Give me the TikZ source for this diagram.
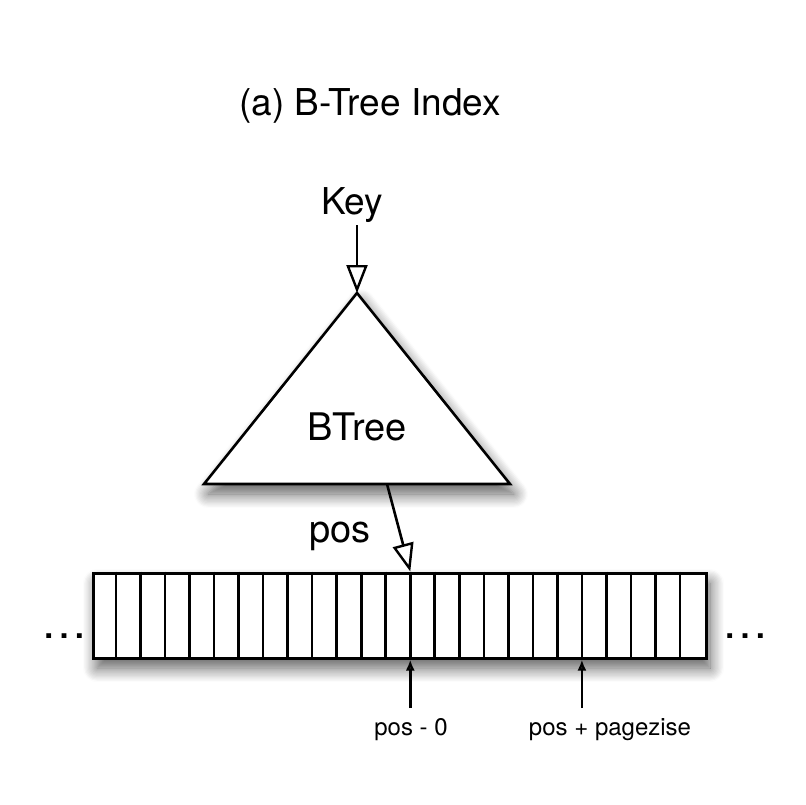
\documentclass[tikz,border=0pt]{standalone}
\usepackage{fontspec}
\setmainfont{TeX Gyre Heros}
\usetikzlibrary{arrows.meta, positioning, calc, shadows.blur}

\begin{document}
\begin{tikzpicture}[
    x=1pt, y=-1pt,
    big/.style={font=\fontsize{37}{40}\selectfont, inner sep=0pt, anchor=base},
    small/.style={font=\fontsize{24}{27}\selectfont, inner sep=0pt, anchor=base},
    shade/.style={blur shadow={shadow xshift=4pt, shadow yshift=-10pt, shadow blur radius=14pt, shadow blur steps=12, shadow opacity=65}},
    tree/.style={draw, line width=2.6pt, fill=white, line join=miter, shade},
    pagerow/.style={draw, line width=3pt, fill=white, minimum width=613pt, minimum height=85pt, inner sep=0pt, shade},
    hollow/.style={-{Triangle[open, length=28pt, width=21pt, line width=2.4pt]}, line width=2.6pt},
    tick/.style={-{Latex[length=11pt, width=9pt]}, line width=2.6pt}
]
\useasboundingbox (0,0) rectangle (806,804);

\node[big] (title) at (370,115) {(a) B-Tree Index};

% the tree
\coordinate (apex) at (357,293);
\coordinate (left) at (204,484);
\coordinate (right) at (510,484);
\draw[tree] (apex) -- (left) -- (right) -- cycle;
\node[big, font=\fontsize{38}{42}\selectfont] (btree) at (357,440) {BTree};
\node[big] (key) at (352,214) {Key};
\draw[hollow] (apex |- 0,225) -- (apex);

% the pages
\node[pagerow] (pages) at (399.5,615.5) {};
\foreach \i in {1,...,24}
    \draw[line width=2.6pt] ($(pages.north west)+(\i*24.52,0)$) -- ($(pages.south west)+(\i*24.52,0)$);
\coordinate (posfrom) at (387,484);
\coordinate (posto) at ($(pages.north west)+(13*24.52,0)$);
\draw[hollow] (posfrom) -- (posto);
\node[big, font=\fontsize{38}{42}\selectfont] (pos) at (340,542) {pos};

\node[big, font=\fontsize{46}{50}\selectfont] (ldots) at (64,638) {…};
\node[big, font=\fontsize{46}{50}\selectfont] (rdots) at (745,638) {…};

% offsets
\coordinate (cellA) at ($(pages.south west)+(13*24.52,0)$);
\coordinate (cellB) at ($(pages.south west)+(20*24.52,0)$);
\node[small] (zero) at (411,735) {pos - 0};
\node[small] (page) at (610,735) {pos + pagezise};
\draw[tick] (cellA |- 0,708) -- (cellA);
\draw[tick] (cellB |- 0,708) -- (cellB);

\end{tikzpicture}
\end{document}
